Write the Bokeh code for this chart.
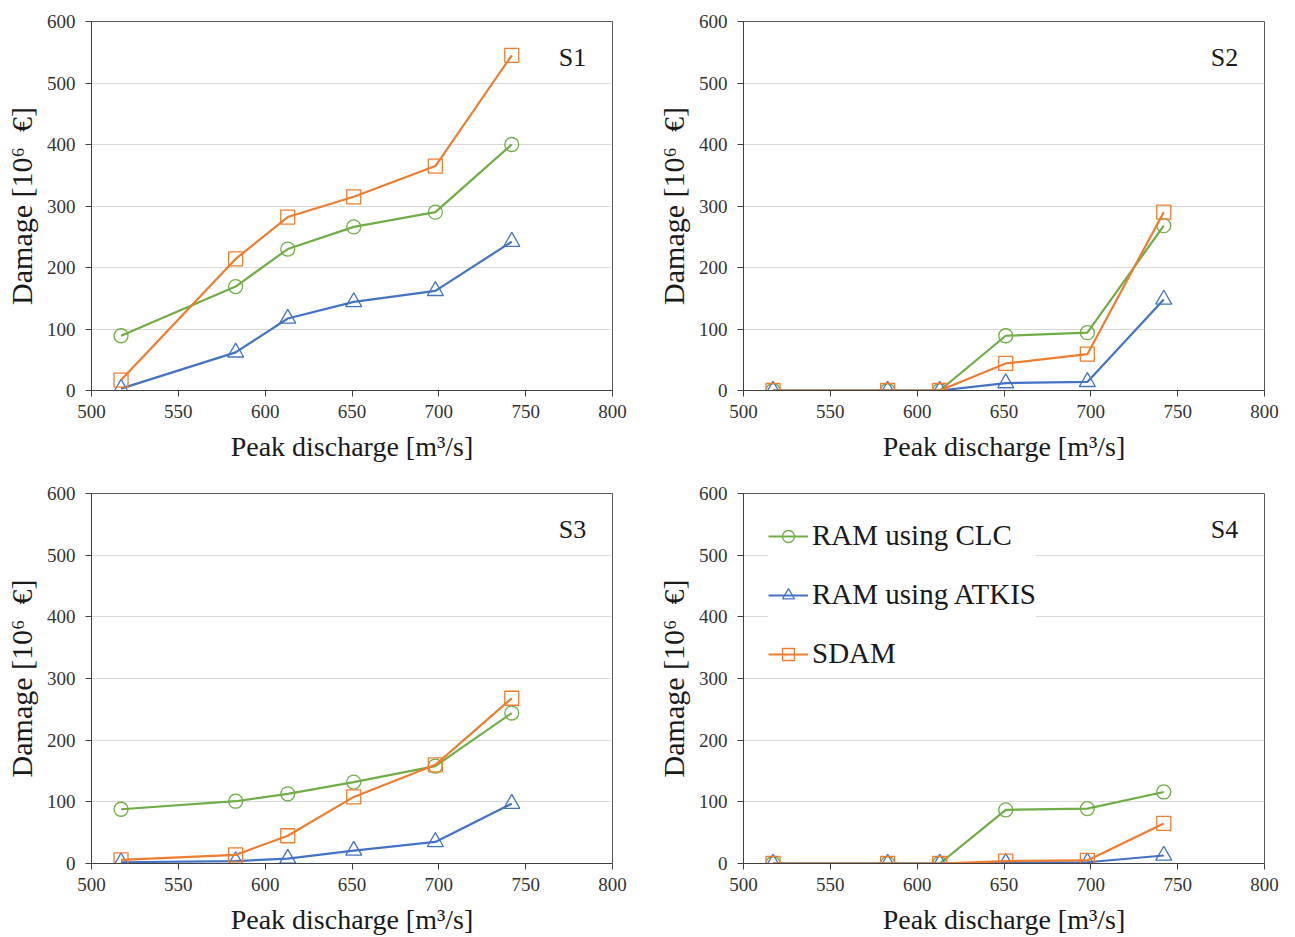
from bokeh.plotting import figure
from bokeh.layouts import column, row
from bokeh.models import Range1d, Label, Legend, LegendItem, FixedTicker
from bokeh.embed import file_html
from bokeh.resources import INLINE

# ---- data ----
discharge = [517, 583, 613, 651, 698, 742]
series_names = ["RAM using CLC", "RAM using ATKIS", "SDAM"]
scenarios = ["S1", "S2", "S3", "S4"]

s1_clc = [89, 169, 230, 266, 290, 400]
s1_atkis = [3, 62, 117, 144, 162, 242]
s1_sdam = [17, 214, 282, 315, 365, 545]

s2_clc = [0, 0, 0, 89, 94, 268]
s2_atkis = [0, 0, 0, 12, 14, 148]
s2_sdam = [0, 0, 0, 44, 59, 290]

s3_clc = [88, 101, 113, 132, 158, 244]
s3_atkis = [2, 4, 8, 21, 35, 97]
s3_sdam = [6, 14, 45, 108, 160, 268]

s4_clc = [0, 0, 0, 87, 89, 116]
s4_atkis = [0, 0, 0, 1, 2, 13]
s4_sdam = [0, 0, 0, 4, 5, 65]

x_ticks = [500, 550, 600, 650, 700, 750, 800]
y_ticks = [0, 100, 200, 300, 400, 500, 600]

data = {
    "S1": (s1_clc, s1_atkis, s1_sdam),
    "S2": (s2_clc, s2_atkis, s2_sdam),
    "S3": (s3_clc, s3_atkis, s3_sdam),
    "S4": (s4_clc, s4_atkis, s4_sdam),
}

colors = ["#70AD47", "#4472C4", "#ED7D31"]
markers = ["circle", "triangle", "square"]
msizes = [14, 16, 14]
FONT = "Liberation Serif"


def make_panel(name, w, h, borders, legend=False):
    bl, br, bt, bb = borders
    p = figure(width=w, height=h, output_backend="svg", toolbar_location=None,
               x_range=Range1d(500, 800), y_range=Range1d(0, 600),
               min_border_left=bl, min_border_right=br,
               min_border_top=bt, min_border_bottom=bb)
    p.outline_line_color = "#595959"
    p.outline_line_width = 1
    p.xgrid.visible = False
    p.ygrid.grid_line_color = "#d9d9d9"
    p.ygrid.grid_line_width = 1
    p.xaxis.ticker = FixedTicker(ticks=x_ticks)
    p.yaxis.ticker = FixedTicker(ticks=y_ticks)
    for ax in (p.xaxis, p.yaxis):
        ax.axis_line_color = "#404040"
        ax.major_tick_line_color = "#404040"
        ax.major_tick_out = 6
        ax.major_tick_in = 0
        ax.minor_tick_line_color = None
        ax.major_label_text_font = FONT
        ax.major_label_text_font_size = "19px"
        ax.major_label_text_color = "#333333"
        ax.axis_label_text_font = FONT
        ax.axis_label_text_font_style = "normal"
        ax.axis_label_text_color = "#1a1a1a"
    p.xaxis.axis_label_text_font_size = "28px"
    p.yaxis.axis_label_text_font_size = "30px"
    p.xaxis.axis_label = "Peak discharge [m³/s]"
    p.yaxis.axis_label = "Damage [10⁶\u00a0 €]"
    p.xaxis.major_label_standoff = 8
    p.yaxis.major_label_standoff = 10
    p.xaxis.axis_label_standoff = 10
    p.yaxis.axis_label_standoff = 6
    p.background_fill_color = "white"
    p.border_fill_color = "white"

    items = []
    for vals, nm, c, mk, ms in zip(data[name], series_names, colors, markers, msizes):
        l = p.line(discharge, vals, line_color=c, line_width=2.2)
        s = p.scatter(discharge, vals, marker=mk, size=ms, line_color=c,
                      line_width=1.3, fill_alpha=0)
        items.append(LegendItem(label=nm, renderers=[l, s]))

    p.add_layout(Label(x=777, y=541, text=name, text_font=FONT,
                       text_font_size="26px", text_align="center",
                       text_baseline="middle", text_color="#1a1a1a"))

    if legend:
        lg = Legend(items=items, location=(25, 193), orientation="vertical",
                    label_text_font=FONT, label_text_font_size="29px",
                    label_text_color="#1a1a1a", glyph_width=40, glyph_height=30,
                    label_standoff=4, spacing=26, padding=8,
                    border_line_color=None, background_fill_color="white",
                    background_fill_alpha=1.0)
        p.add_layout(lg, "center")
    return p


p1 = make_panel("S1", 650, 470, (91, 38, 20, 80))
p2 = make_panel("S2", 645, 470, (93, 31, 21, 78))
p3 = make_panel("S3", 650, 467, (91, 38, 22, 74))
p4 = make_panel("S4", 645, 467, (93, 31, 23, 74), legend=True)

layout = column(row(p1, p2), row(p3, p4))

with open("out.html", "w") as f:
    f.write(file_html(layout, INLINE))
